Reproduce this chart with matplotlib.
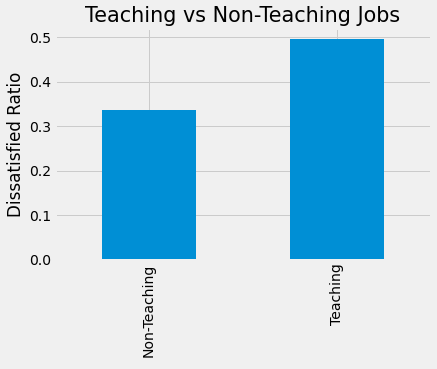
import matplotlib
matplotlib.use('Agg')
import matplotlib.pyplot as plt

# data
categories = ['Non-Teaching', 'Teaching']
dissatisfied_ratio = [0.337, 0.4955]

plt.style.use('fivethirtyeight')

fig = plt.figure(figsize=(437 / 72, 369 / 72), dpi=72)
ax = fig.add_axes([0.126, 0.2954, 0.86, 0.6286])

ax.bar(range(len(categories)), dissatisfied_ratio, width=0.5, color='#008fd5')
ax.set_xticks(range(len(categories)))
ax.set_xticklabels(categories, rotation=90)
ax.set_xlim(-0.5, len(categories) - 0.5)
ax.set_ylabel('Dissatisfied Ratio')
ax.set_title('Teaching vs Non-Teaching Jobs', fontsize=20.7)

fig.savefig('out.png', dpi=72)
